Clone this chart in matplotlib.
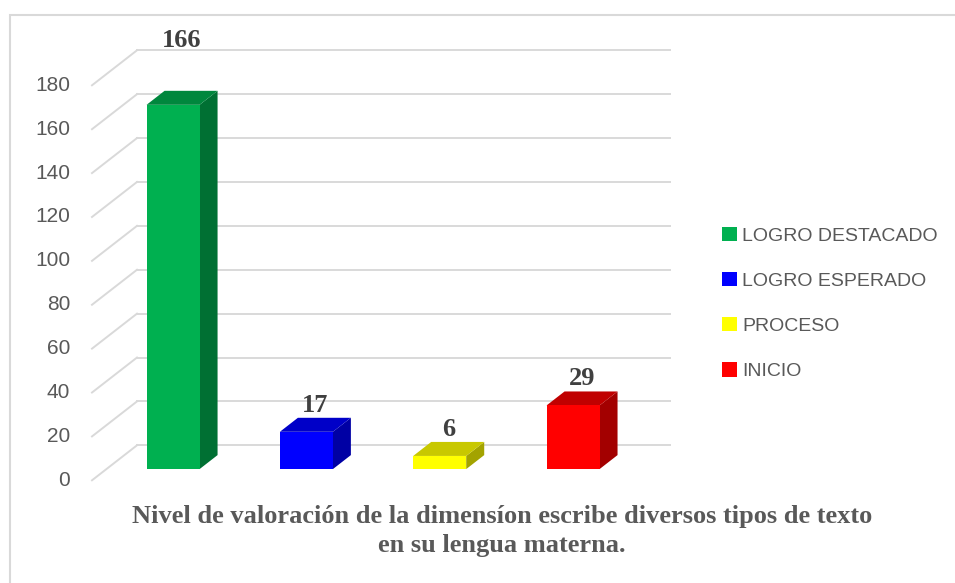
import matplotlib
matplotlib.use("Agg")
import matplotlib.pyplot as plt
from matplotlib.patches import Polygon, Rectangle, Patch

categories = ["LOGRO DESTACADO", "LOGRO ESPERADO", "PROCESO", "INICIO"]
values = [166, 17, 6, 29]
front_colors = ["#00B050", "#0000FF", "#FFFF00", "#FF0000"]
top_colors = ["#00873D", "#0000C8", "#C8C800", "#C00000"]
side_colors = ["#007033", "#0000A4", "#A3A300", "#A30000"]
yticks = list(range(0, 181, 20))
title = ("Nivel de valoración de la dimensíon escribe diversos tipos de texto\n"
         "en su lengua materna.")

W, H = 955, 583
GRID = "#D9D9D9"
TXT = "#595959"

fig = plt.figure(figsize=(W / 100, H / 100), dpi=100)

# light frame of the chart area (runs off the right / bottom edge)
fig.patches.append(Rectangle((9.5 / W, -0.05), 1.0, 1 - 14.5 / H + 0.05,
                             transform=fig.transFigure, fill=False,
                             edgecolor=GRID, linewidth=1.5))

# axes = back wall of the 3-D plot
ax = fig.add_axes([137 / W, 1 - 445.3 / H, 533.3 / W, 395 / H])
ax.set_xlim(0, len(values))
ax.set_ylim(0, 180)
ax.axis("off")

px_x = len(values) / 533.3
px_y = 180 / 395
depth_dx = -45 * px_x      # back wall -> front edge of floor
depth_dy = -35 * px_y
bar_front, bar_back = 0.68, 0.28
bar_w = 53 * px_x

for v in yticks:
    ax.plot([0, len(values)], [v, v], color=GRID, lw=1.4, clip_on=False, zorder=1)
    ax.plot([0, depth_dx], [v, v + depth_dy], color=GRID, lw=1.4, clip_on=False, zorder=1)
    ax.text(depth_dx - 22 * px_x, v + depth_dy, str(v), ha="right", va="center",
            fontsize=15, color=TXT, family="Liberation Sans")

bx = (bar_back - bar_front) * depth_dx
by = (bar_back - bar_front) * depth_dy
label_lift = {0: 38}  # the first label sits higher in the original

for i, v in enumerate(values):
    x0 = i + 0.5 - bar_w / 2 + bar_front * depth_dx
    y0 = bar_front * depth_dy
    side = Polygon([(x0 + bar_w, y0), (x0 + bar_w + bx, y0 + by),
                    (x0 + bar_w + bx, y0 + v + by), (x0 + bar_w, y0 + v)],
                   closed=True, facecolor=side_colors[i], edgecolor="none",
                   clip_on=False, zorder=3)
    top = Polygon([(x0, y0 + v), (x0 + bar_w, y0 + v),
                   (x0 + bar_w + bx, y0 + v + by), (x0 + bx, y0 + v + by)],
                  closed=True, facecolor=top_colors[i], edgecolor="none",
                  clip_on=False, zorder=3)
    front = Rectangle((x0, y0), bar_w, v, facecolor=front_colors[i],
                      edgecolor="none", clip_on=False, zorder=4)
    for p in (side, top, front):
        ax.add_patch(p)
    ly = y0 + v + by + (6 + label_lift.get(i, 0)) * px_y
    ax.text(x0 + bar_w / 2 + bx / 2, ly, str(v), ha="center", va="baseline",
            fontsize=19, fontweight="bold", color="#404040",
            family="Liberation Serif", zorder=5)

handles = [Patch(facecolor=c, edgecolor="none", label=l)
           for c, l in zip(front_colors, categories)]
fig.legend(handles=handles, loc="upper left", bbox_to_anchor=(722 / W, 1 - 227 / H),
           frameon=False, handlelength=0.75, handleheight=0.75,
           handletextpad=0.3, labelspacing=1.4, borderpad=0, borderaxespad=0,
           labelcolor=TXT, prop={"family": "Liberation Sans", "size": 14})

fig.text(502 / W, 1 - 505 / H, title, ha="center", va="top", fontsize=19,
         fontweight="bold", color=TXT, family="Liberation Serif", linespacing=1.35)

fig.savefig("out.png", dpi=100)
